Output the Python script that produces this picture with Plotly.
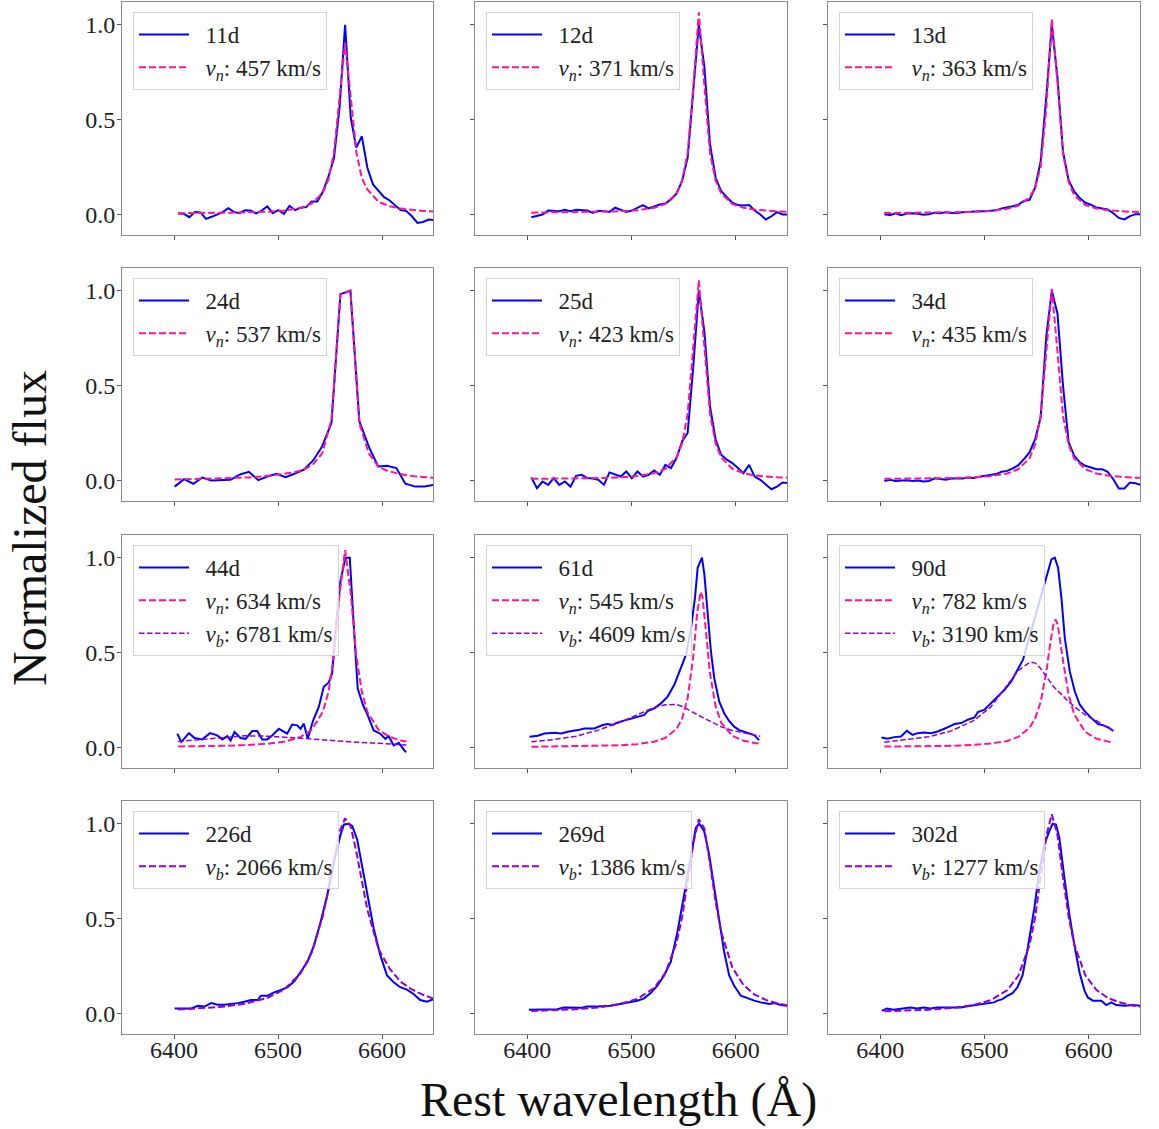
import plotly.graph_objects as go

FONT = "Liberation Serif"

# ---------------- data ----------------
DAYS = ["11d", "12d", "13d", "24d", "25d", "34d", "44d", "61d", "90d", "226d", "269d", "302d"]
V_NARROW = [457, 371, 363, 537, 423, 435, 634, 545, 782, None, None, None]
V_BROAD = [None, None, None, None, None, None, 6781, 4609, 3190, 2066, 1386, 1277]

# common wavelength grid of the observed spectra (Angstrom)
GRID = [6404.0, 6409.4, 6414.7, 6420.1, 6425.4, 6430.8, 6436.1, 6441.5, 6446.8, 6452.2,
        6457.5, 6462.9, 6468.2, 6473.6, 6478.9, 6484.3, 6489.6, 6495.0, 6500.3, 6505.7,
        6511.0, 6516.4, 6521.7, 6527.1, 6532.4, 6537.8, 6543.1, 6548.5, 6553.8, 6559.2,
        6564.5, 6569.9, 6575.2, 6580.6, 6585.9, 6591.3, 6596.6, 6602.0, 6607.3, 6612.7,
        6618.0, 6623.4, 6628.7, 6634.1, 6639.4, 6644.8, 6650.1]
# wavelength grid of the fitted profiles
FG = [6404.0, 6425.4, 6446.8, 6468.2, 6489.6, 6505.7, 6521.7, 6532.4, 6543.1, 6548.5,
      6553.8, 6559.2, 6564.5, 6569.9, 6575.2, 6580.6, 6585.9, 6596.6, 6607.3, 6618.0,
      6628.7, 6639.4, 6650.1]
FG44 = [6404.0, 6425.4, 6446.8, 6468.2, 6489.6, 6505.7, 6521.7, 6532.4, 6543.1, 6548.5,
        6553.8, 6559.2, 6564.5, 6569.9, 6575.2, 6580.6, 6585.9, 6596.6, 6607.3, 6618.0,
        6623.4]
FG3 = [6404.0, 6425.4, 6446.8, 6468.2, 6489.6, 6505.7, 6521.7, 6532.4, 6543.1, 6548.5,
       6553.8, 6559.2, 6562.9, 6566.3, 6568.0, 6570.1, 6575.2, 6580.6, 6585.9, 6596.6,
       6607.3, 6618.0, 6623.4]

FLUX_11D = [0.004, 0.002, -0.016, 0.011, 0.009, -0.025, -0.014, -0.002, 0.011, 0.032,
            0.012, 0.005, 0.021, 0.019, 0.004, 0.019, 0.041, 0.005, 0.021, 0.002,
            0.044, 0.021, 0.034, 0.037, 0.067, 0.067, 0.118, 0.199, 0.295, 0.566,
            1.0, 0.51, 0.351, 0.411, 0.245, 0.157, 0.122, 0.09, 0.072, 0.048,
            0.021, 0.016, -0.011, -0.046, -0.041, -0.028, -0.032]
NARROW_11D = [0.005, 0.006, 0.007, 0.009, 0.013, 0.019, 0.033, 0.056, 0.113, 0.183,
              0.325, 0.63, 0.905, 0.62, 0.33, 0.19, 0.13, 0.065, 0.042, 0.03,
              0.022, 0.017, 0.014]

FLUX_12D = [-0.016, -0.01, -0.002, 0.019, 0.016, 0.016, 0.023, 0.016, 0.023, 0.023,
            0.019, 0.007, 0.018, 0.016, 0.012, 0.034, 0.025, 0.012, 0.019, 0.034,
            0.048, 0.030, 0.041, 0.051, 0.056, 0.078, 0.108, 0.175, 0.298, 0.633,
            1.0, 0.774, 0.369, 0.192, 0.122, 0.09, 0.06, 0.048, 0.046, 0.048,
            0.019, -0.002, -0.028, -0.011, 0.011, -0.002, -0.002]
NARROW_12D = [0.008, 0.009, 0.010, 0.012, 0.015, 0.021, 0.034, 0.054, 0.109, 0.177,
              0.324, 0.675, 1.066, 0.675, 0.324, 0.177, 0.109, 0.054, 0.034, 0.024,
              0.018, 0.015, 0.013]

FLUX_13D = [0.0, -0.005, 0.005, -0.005, 0.003, 0.005, 0.002, -0.003, 0.0, 0.008,
            0.005, 0.01, 0.006, 0.006, 0.01, 0.012, 0.015, 0.015, 0.015, 0.018,
            0.02, 0.03, 0.035, 0.042, 0.05, 0.07, 0.075, 0.14, 0.28, 0.62,
            1.0, 0.72, 0.33, 0.18, 0.12, 0.085, 0.06, 0.05, 0.035, 0.03,
            0.025, 0.005, -0.02, -0.028, -0.01, 0.0, 0.0]
NARROW_13D = [0.006, 0.007, 0.008, 0.010, 0.012, 0.017, 0.028, 0.045, 0.088, 0.14,
              0.25, 0.56, 1.03, 0.70, 0.32, 0.17, 0.10, 0.048, 0.03, 0.021,
              0.016, 0.013, 0.011]

WAVE_24D = [6400.6, 6409.6, 6418.6, 6427.2, 6435.8, 6444.8, 6454.4, 6463.4, 6472.0, 6481.0,
            6489.6, 6498.6, 6507.2, 6515.8, 6524.8, 6533.8, 6542.4, 6551.4, 6560.0, 6569.6,
            6578.2, 6587.2, 6596.2, 6604.8, 6613.8, 6622.4, 6632.0, 6640.6, 6649.6]
FLUX_24D = [-0.034, 0.005, -0.019, 0.014, -0.002, 0.0, 0.002, 0.03, 0.044, 0.0,
            0.019, 0.034, 0.016, 0.034, 0.055, 0.104, 0.178, 0.302, 0.982, 1.0,
            0.311, 0.178, 0.072, 0.076, 0.064, -0.019, -0.034, -0.034, -0.025]
NARROW_24D = [0.004, 0.005, 0.005, 0.006, 0.007, 0.008, 0.010, 0.012, 0.014, 0.018,
              0.022, 0.028, 0.035, 0.042, 0.055, 0.085, 0.14, 0.32, 0.98, 1.0,
              0.30, 0.143, 0.072, 0.05, 0.037, 0.027, 0.02, 0.016, 0.012]

FLUX_25D = [0.014, -0.042, -0.007, -0.025, 0.011, -0.025, -0.007, -0.034, 0.023, 0.028,
            0.011, 0.009, 0.002, -0.025, 0.041, 0.028, 0.019, 0.046, 0.011, 0.046,
            0.019, 0.028, 0.051, 0.028, 0.081, 0.064, 0.117, 0.205, 0.25, 0.60,
            1.0, 0.78, 0.39, 0.214, 0.134, 0.108, 0.09, 0.064, 0.037, 0.081,
            0.019, 0.002, -0.025, -0.048, -0.034, -0.012, -0.016]
NARROW_25D = [0.007, 0.008, 0.009, 0.011, 0.015, 0.022, 0.037, 0.06, 0.12, 0.194,
              0.35, 0.70, 1.055, 0.70, 0.35, 0.194, 0.12, 0.06, 0.037, 0.025,
              0.019, 0.015, 0.013]

FLUX_34D = [-0.004, 0.002, -0.004, 0.0, 0.0, -0.004, -0.002, -0.007, -0.004, 0.01,
            0.005, 0.002, 0.009, 0.009, 0.009, 0.014, 0.012, 0.018, 0.023, 0.028,
            0.032, 0.044, 0.049, 0.062, 0.079, 0.111, 0.146, 0.217, 0.33, 0.76,
            1.0, 0.88, 0.50, 0.20, 0.13, 0.094, 0.076, 0.067, 0.058, 0.058,
            0.044, 0.005, -0.044, -0.044, -0.012, -0.016, -0.026]
NARROW_34D = [0.007, 0.008, 0.009, 0.011, 0.015, 0.021, 0.035, 0.058, 0.115, 0.187,
              0.34, 0.68, 1.01, 0.68, 0.34, 0.187, 0.115, 0.058, 0.035, 0.024,
              0.018, 0.014, 0.012]

WAVE_44D = [6403.2, 6407.0, 6414.4, 6419.8, 6427.2, 6434.6, 6441.6, 6446.4, 6451.2, 6454.4,
            6458.2, 6464.0, 6468.8, 6475.2, 6480.0, 6484.8, 6489.6, 6494.4, 6500.8, 6508.8,
            6513.6, 6518.4, 6521.6, 6524.8, 6528.6, 6533.8, 6539.2, 6544.0, 6548.8, 6552.0,
            6555.2, 6560.0, 6564.8, 6569.0, 6572.8, 6576.6, 6581.8, 6585.6, 6592.0, 6598.4,
            6603.2, 6606.4, 6611.2, 6616.0, 6623.0]
FLUX_44D = [0.071, 0.027, 0.074, 0.048, 0.041, 0.074, 0.062, 0.041, 0.058, 0.035,
            0.08, 0.048, 0.044, 0.085, 0.085, 0.041, 0.041, 0.062, 0.097, 0.071,
            0.119, 0.115, 0.097, 0.124, 0.044, 0.142, 0.212, 0.319, 0.342, 0.389,
            0.611, 0.876, 1.0, 1.0, 0.646, 0.31, 0.221, 0.177, 0.088, 0.071,
            0.044, 0.058, 0.009, 0.023, -0.027]
NARROW_44D = [0.004, 0.005, 0.007, 0.011, 0.018, 0.028, 0.054, 0.092, 0.186, 0.292,
              0.485, 0.81, 1.04, 0.81, 0.485, 0.292, 0.186, 0.092, 0.054, 0.035,
              0.03]
BROAD_44D = [0.030, 0.040, 0.052, 0.060, 0.058, 0.054, 0.047, 0.043, 0.038, 0.036,
             0.034, 0.032, 0.030, 0.028, 0.026, 0.025, 0.023, 0.020, 0.016, 0.013,
             0.012]

WAVE_61D = [6402.2, 6410.2, 6416.6, 6426.2, 6432.5, 6438.9, 6448.5, 6454.9, 6464.4, 6472.4,
            6477.2, 6482.0, 6486.8, 6496.3, 6505.9, 6512.3, 6515.5, 6521.9, 6528.2, 6534.6,
            6541.0, 6547.5, 6552.2, 6557.0, 6560.8, 6563.4, 6567.5, 6569.8, 6573.0, 6576.1,
            6579.3, 6584.1, 6588.9, 6593.6, 6598.4, 6603.2, 6608.0, 6612.8, 6617.5, 6622.3]
FLUX_61D = [0.055, 0.06, 0.072, 0.076, 0.072, 0.081, 0.09, 0.099, 0.099, 0.117,
            0.122, 0.117, 0.131, 0.147, 0.161, 0.17, 0.191, 0.205, 0.231, 0.267,
            0.329, 0.417, 0.488, 0.629, 0.788, 0.947, 1.0, 0.912, 0.70, 0.505,
            0.364, 0.24, 0.178, 0.138, 0.108, 0.09, 0.081, 0.072, 0.064, 0.037]
NARROW_61D = [0.002, 0.003, 0.004, 0.006, 0.010, 0.016, 0.029, 0.049, 0.096, 0.151,
              0.259, 0.48, 0.71, 0.82, 0.79, 0.68, 0.39, 0.215, 0.13, 0.06,
              0.034, 0.022, 0.018]
BROAD_61D = [0.028, 0.04, 0.058, 0.09, 0.132, 0.17, 0.21, 0.224, 0.225, 0.215,
             0.198, 0.185, 0.173, 0.162, 0.157, 0.151, 0.14, 0.123, 0.108, 0.088,
             0.075, 0.064, 0.058]

WAVE_90D = [6401.3, 6407.1, 6413.5, 6419.9, 6425.6, 6431.1, 6435.9, 6442.3, 6448.7, 6455.1,
            6463.1, 6471.2, 6477.6, 6484.0, 6490.4, 6493.6, 6500.0, 6506.4, 6512.8, 6519.2,
            6525.6, 6532.1, 6536.9, 6541.7, 6548.1, 6554.5, 6560.9, 6564.1, 6567.3, 6570.5,
            6573.7, 6576.9, 6581.7, 6586.5, 6591.3, 6596.2, 6602.6, 6609.0, 6613.8, 6618.6,
            6623.4]
FLUX_90D = [0.051, 0.044, 0.053, 0.056, 0.086, 0.065, 0.074, 0.078, 0.074, 0.083,
            0.101, 0.122, 0.127, 0.145, 0.157, 0.185, 0.198, 0.233, 0.268, 0.303,
            0.347, 0.409, 0.462, 0.556, 0.681, 0.806, 0.933, 0.991, 1.0, 0.947,
            0.788, 0.577, 0.40, 0.295, 0.224, 0.189, 0.153, 0.122, 0.115, 0.104,
            0.086]
NARROW_90D = [0.003, 0.004, 0.005, 0.007, 0.012, 0.019, 0.033, 0.054, 0.102, 0.152,
              0.238, 0.396, 0.545, 0.657, 0.674, 0.648, 0.458, 0.276, 0.173, 0.08,
              0.045, 0.028, 0.023]
BROAD_90D = [0.026, 0.04, 0.055, 0.086, 0.14, 0.21, 0.325, 0.405, 0.447, 0.445,
             0.415, 0.37, 0.34, 0.318, 0.31, 0.298, 0.27, 0.24, 0.215, 0.17,
             0.14, 0.105, 0.086]

WAVE_226D = [6400.6, 6410.2, 6416.6, 6423.0, 6429.3, 6435.7, 6442.1, 6448.5, 6454.9, 6461.2,
             6467.6, 6474.0, 6480.4, 6483.6, 6490.0, 6496.3, 6502.7, 6509.1, 6515.5, 6521.9,
             6528.2, 6534.6, 6541.0, 6547.4, 6553.8, 6560.2, 6563.4, 6568.2, 6571.3, 6576.1,
             6579.3, 6585.6, 6592.0, 6598.4, 6604.8, 6611.2, 6617.5, 6623.9, 6630.3, 6636.7,
             6643.1, 6649.4]
FLUX_226D = [0.025, 0.025, 0.025, 0.039, 0.035, 0.053, 0.044, 0.044, 0.048, 0.053,
             0.06, 0.069, 0.069, 0.092, 0.092, 0.11, 0.122, 0.137, 0.167, 0.216,
             0.27, 0.358, 0.482, 0.624, 0.801, 0.943, 0.996, 1.0, 0.988, 0.917,
             0.819, 0.624, 0.447, 0.305, 0.199, 0.163, 0.137, 0.124, 0.101, 0.069,
             0.06, 0.074]
BROAD_226D = [0.019, 0.025, 0.034, 0.05, 0.08, 0.124, 0.21, 0.319, 0.513, 0.653,
              0.812, 0.959, 1.029, 0.985, 0.854, 0.691, 0.546, 0.339, 0.235, 0.165,
              0.125, 0.097, 0.075]

WAVE_269D = [6401.6, 6416.0, 6428.8, 6435.2, 6441.6, 6451.2, 6457.6, 6467.2, 6480.0, 6489.6,
             6499.2, 6505.6, 6512.0, 6518.4, 6524.8, 6531.2, 6537.6, 6544.0, 6550.4, 6556.8,
             6561.6, 6564.8, 6569.6, 6574.4, 6579.2, 6584.0, 6588.8, 6593.6, 6598.4, 6604.8,
             6611.2, 6617.6, 6624.0, 6632.0, 6636.8, 6643.2, 6649.6]
FLUX_269D = [0.018, 0.021, 0.021, 0.03, 0.028, 0.028, 0.035, 0.035, 0.039, 0.048,
             0.057, 0.066, 0.078, 0.106, 0.145, 0.199, 0.27, 0.429, 0.624, 0.837,
             0.979, 1.0, 0.961, 0.837, 0.66, 0.482, 0.323, 0.199, 0.145, 0.092,
             0.078, 0.066, 0.057, 0.048, 0.053, 0.043, 0.039]
BROAD_269D = [0.011, 0.015, 0.021, 0.03, 0.049, 0.076, 0.133, 0.212, 0.371, 0.506,
              0.688, 0.895, 1.024, 0.973, 0.789, 0.586, 0.43, 0.241, 0.148, 0.098,
              0.07, 0.052, 0.040]

WAVE_302D = [6401.6, 6406.4, 6412.8, 6422.5, 6428.9, 6435.3, 6441.7, 6448.2, 6454.6, 6464.2,
             6477.0, 6486.7, 6496.3, 6502.7, 6509.1, 6512.4, 6517.2, 6522.0, 6526.8, 6531.6,
             6536.4, 6541.3, 6547.7, 6552.5, 6557.3, 6562.1, 6565.3, 6568.5, 6571.7, 6576.6,
             6581.4, 6586.2, 6591.0, 6595.8, 6599.0, 6603.9, 6611.9, 6616.7, 6621.5, 6626.3,
             6634.3, 6642.4, 6650.4]
FLUX_302D = [0.012, 0.025, 0.018, 0.025, 0.03, 0.025, 0.03, 0.025, 0.03, 0.03,
             0.03, 0.039, 0.048, 0.053, 0.057, 0.066, 0.074, 0.092, 0.105, 0.137,
             0.199, 0.34, 0.553, 0.748, 0.89, 0.961, 1.0, 0.996, 0.926, 0.713,
             0.518, 0.358, 0.216, 0.119, 0.083, 0.066, 0.066, 0.043, 0.057, 0.043,
             0.039, 0.043, 0.039]
BROAD_302D = [0.010, 0.013, 0.018, 0.027, 0.043, 0.068, 0.121, 0.197, 0.36, 0.505,
              0.707, 0.937, 1.05, 0.94, 0.715, 0.508, 0.364, 0.2, 0.122, 0.081,
              0.058, 0.043, 0.033]

X_TICKS = [6400, 6500, 6600]
Y_TICKS = [0.0, 0.5, 1.0]
Y_TICK_TEXT = ["0.0", "0.5", "1.0"]

PANELS = [
    (GRID, FLUX_11D, FG, NARROW_11D, None, None),
    (GRID, FLUX_12D, FG, NARROW_12D, None, None),
    (GRID, FLUX_13D, FG, NARROW_13D, None, None),
    (WAVE_24D, FLUX_24D, WAVE_24D, NARROW_24D, None, None),
    (GRID, FLUX_25D, FG, NARROW_25D, None, None),
    (GRID, FLUX_34D, FG, NARROW_34D, None, None),
    (WAVE_44D, FLUX_44D, FG44, NARROW_44D, FG44, BROAD_44D),
    (WAVE_61D, FLUX_61D, FG3, NARROW_61D, FG3, BROAD_61D),
    (WAVE_90D, FLUX_90D, FG3, NARROW_90D, FG3, BROAD_90D),
    (WAVE_226D, FLUX_226D, None, None, FG, BROAD_226D),
    (WAVE_269D, FLUX_269D, None, None, FG, BROAD_269D),
    (WAVE_302D, FLUX_302D, None, None, FG, BROAD_302D),
]

# ---------------- layout geometry (pixels) ----------------
W, H = 1159, 1129
COL_PX = [(122, 433), (475, 787), (828, 1140)]
ROW_PX = [(2, 235), (268, 501), (535, 768), (801, 1034)]

BLUE = "#0000ff"
PINK = "#ff1493"
PURPLE = "#9400d3"
PAD = "\u00a0\u00a0"

fig = go.Figure()
layout = {}
for i, (wx, fy, nx, ny, bx, by) in enumerate(PANELS):
    r, c = divmod(i, 3)
    s = "" if i == 0 else str(i + 1)
    leg = "legend" + s
    fig.add_trace(go.Scatter(x=wx, y=fy, mode="lines", name=PAD + DAYS[i],
                             xaxis="x" + s, yaxis="y" + s, legend=leg,
                             line=dict(color=BLUE, width=2)))
    if ny is not None:
        fig.add_trace(go.Scatter(
            x=nx, y=ny, mode="lines",
            name=PAD + f"<i>v</i><sub><i>n</i></sub>: {V_NARROW[i]} km/s",
            xaxis="x" + s, yaxis="y" + s, legend=leg,
            line=dict(color=PINK, width=2, dash="7px,3px")))
    if by is not None:
        wdt = 1.5 if ny is not None else 2
        dsh = "5.5px,2.5px" if ny is not None else "7px,3px"
        fig.add_trace(go.Scatter(
            x=bx, y=by, mode="lines",
            name=PAD + f"<i>v</i><sub><i>b</i></sub>: {V_BROAD[i]} km/s",
            xaxis="x" + s, yaxis="y" + s, legend=leg,
            line=dict(color=PURPLE, width=wdt, dash=dsh)))

    x0, x1 = COL_PX[c]
    y0, y1 = ROW_PX[r]
    common = dict(ticks="outside", ticklen=4, tickwidth=1, tickcolor="#555555",
                  showline=True, mirror=True, linecolor="#8a8a8a", linewidth=1,
                  showgrid=False, zeroline=False,
                  tickfont=dict(family=FONT, size=24, color="#222222"))
    layout["xaxis" + s] = dict(domain=[x0 / W, x1 / W], anchor="y" + s,
                               range=[6350, 6649], tickvals=X_TICKS,
                               ticklabelstandoff=-10,
                               showticklabels=(r == 3), **common)
    layout["yaxis" + s] = dict(domain=[1 - y1 / H, 1 - y0 / H], anchor="x" + s,
                               range=[-0.11, 1.12], tickvals=Y_TICKS,
                               ticklabelstandoff=-3,
                               ticktext=Y_TICK_TEXT, showticklabels=(c == 0), **common)
    layout[leg] = dict(x=(x0 + 11) / W, y=1 - (y0 + 10) / H, xanchor="left", yanchor="top",
                       bgcolor="rgba(255,255,255,0.8)", bordercolor="#d4d4d4",
                       borderwidth=1, itemwidth=50, tracegroupgap=0,
                       font=dict(family=FONT, size=23, color="#222222"))

fig.update_layout(**layout)
fig.update_layout(
    width=W, height=H, margin=dict(l=0, r=0, t=0, b=0),
    paper_bgcolor="white", plot_bgcolor="white", showlegend=True,
    annotations=[
        dict(text="Normalized flux", x=30 / W, y=1 - 528 / H, xref="paper", yref="paper",
             xanchor="center", yanchor="middle",
             textangle=-90, showarrow=False, font=dict(family=FONT, size=48, color="#111111")),
        dict(text="Rest wavelength (Å)", x=618 / W, y=1 - 1100 / H, xref="paper", yref="paper",
             xanchor="center", yanchor="middle",
             showarrow=False, font=dict(family=FONT, size=48, color="#111111")),
    ],
)
fig.write_html("out.html")
